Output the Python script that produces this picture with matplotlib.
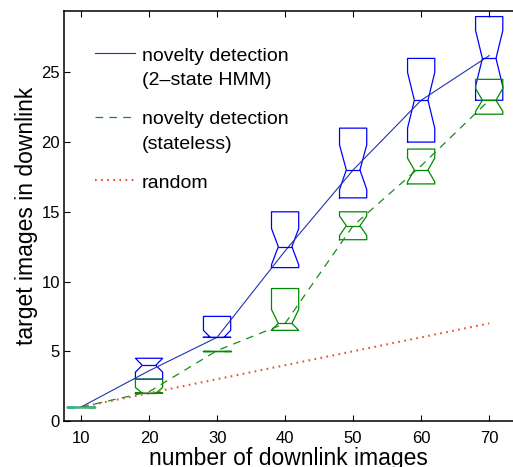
import numpy as np
import matplotlib
matplotlib.use('Agg')
import matplotlib.pyplot as plt

plt.rcParams['font.family'] = ['Liberation Sans', 'DejaVu Sans']
plt.rcParams['lines.scale_dashes'] = False

# number of downlink images
x = [10, 20, 30, 40, 50, 60, 70]

# novelty detection (2-state HMM): box stats and mean line
hmm_q1 = [1, 3.0, 6.0, 11.0, 16.0, 20.0, 23.0]
hmm_med = [1, 4.0, 6.0, 12.5, 18.0, 23.0, 26.0]
hmm_q3 = [1, 4.5, 7.5, 15.0, 21.0, 26.0, 29.0]
hmm_cilo = [1, 3.5, 6.0, 11.2, 16.6, 21.0, 24.0]
hmm_cihi = [1, 4.5, 6.5, 13.8, 19.8, 25.0, 28.0]
hmm_mean = [1, 3.6, 6.0, 12.2, 18.0, 23.0, 26.2]

# novelty detection (stateless)
sl_q1 = [1, 2.0, 5.0, 6.5, 13.0, 17.0, 22.0]
sl_med = [1, 2.0, 5.0, 7.0, 14.0, 18.0, 23.0]
sl_q3 = [1, 3.0, 5.0, 9.5, 15.0, 19.5, 24.5]
sl_cilo = [1, 2.0, 5.0, 6.5, 13.3, 17.15, 22.2]
sl_cihi = [1, 2.4, 5.0, 8.0, 14.7, 18.85, 23.85]
sl_mean = [1, 2.1, 5.05, 7.0, 14.0, 18.3, 23.0]

# random selection
rand_mean = [1, 2, 3, 4, 5, 6, 7]

blue = '#0000ff'
green = '#008a00'


def make_stats(q1, med, q3, cilo, cihi):
    return [dict(q1=a, med=b, q3=c, cilo=d, cihi=e, whislo=a, whishi=c, fliers=[])
            for a, b, c, d, e in zip(q1, med, q3, cilo, cihi)]


fig = plt.figure(figsize=(5.13, 4.67), dpi=100)
# the original plot is cropped on the right, so the axes run to the figure edge
ax = fig.add_axes([64/513, 46/467, 449/513, 410/467])

for stats, col in [(make_stats(hmm_q1, hmm_med, hmm_q3, hmm_cilo, hmm_cihi), blue),
                   (make_stats(sl_q1, sl_med, sl_q3, sl_cilo, sl_cihi), green)]:
    art = ax.bxp(stats, positions=x, widths=4, shownotches=True, showcaps=False,
                 showfliers=False, manage_ticks=False,
                 boxprops=dict(color=col, linewidth=0.9),
                 medianprops=dict(color=col, linewidth=0.9),
                 whiskerprops=dict(linestyle='none'))
# the overlapping degenerate boxes at 10 show up bright green
art['boxes'][0].set_color('#00ee00')
art['boxes'][0].set_zorder(3)
art['medians'][0].set_color('#00ee00')

ax.plot(x, hmm_mean, color='#2233aa', lw=0.8, label='novelty detection\n(2\u2013state HMM)')
ax.plot(x, sl_mean, color='#1a8a1a', lw=0.9, ls=(0, (5.5, 4.5)),
        label='novelty detection\n(stateless)')
ax.plot(x, rand_mean, color='#f04a30', lw=1.5, ls=(0, (1.2, 3.2)), label='random')

ax.set_xlim(7.5, 73.5)
ax.set_ylim(0, 29.4)
ax.set_xticks(x)
ax.set_yticks([0, 5, 10, 15, 20, 25])
ax.tick_params(direction='in', length=4, width=0.8, labelsize=12, top=True, right=False)
ax.tick_params(axis='x', pad=7)
ax.tick_params(axis='y', pad=3)
for s in ax.spines.values():
    s.set_linewidth(1.1)
ax.spines['right'].set_visible(False)
ax.set_xlabel('number of downlink images', fontsize=16.5, labelpad=1)
ax.set_ylabel('target images in downlink', fontsize=16.5, labelpad=2)

leg = ax.legend(loc='upper left', bbox_to_anchor=(0.069, 0.91), frameon=False,
                fontsize=14, handlelength=2.06, handletextpad=0.36, borderpad=0,
                borderaxespad=0, labelspacing=1.15, handleheight=0.2)
for t in leg.get_texts():
    t.set_linespacing(1.55)
for column in leg._legend_handle_box.get_children():
    for item in column.get_children():
        item.align = 'top'

fig.savefig('out.png', dpi=100)
